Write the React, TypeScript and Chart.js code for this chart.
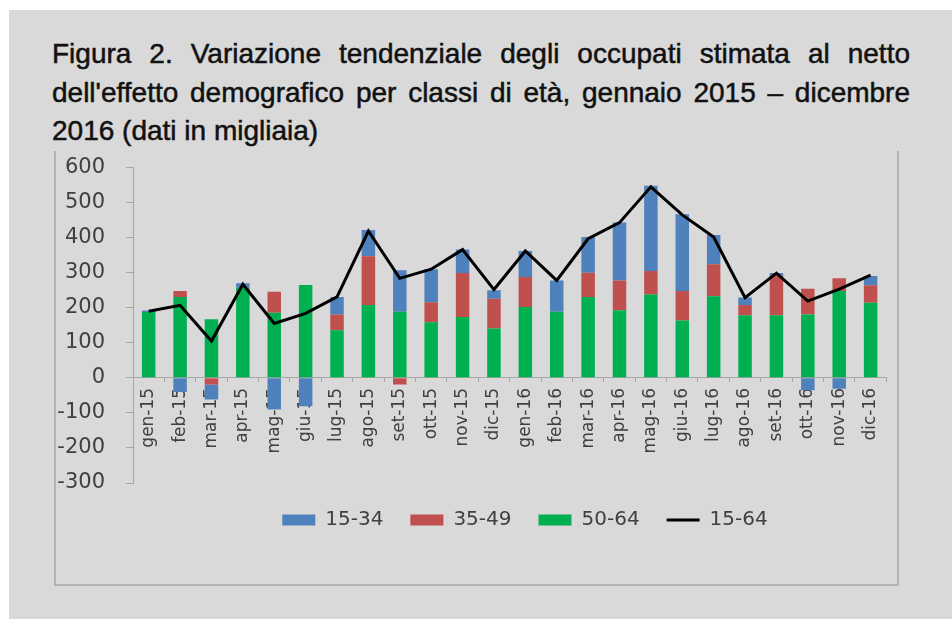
import React, { useEffect, useRef } from "react";
import { Chart, registerables } from "chart.js";

Chart.register(...registerables);

const categories = [
  "gen-15", "feb-15", "mar-15", "apr-15", "mag-15", "giu-15",
  "lug-15", "ago-15", "set-15", "ott-15", "nov-15", "dic-15",
  "gen-16", "feb-16", "mar-16", "apr-16", "mag-16", "giu-16",
  "lug-16", "ago-16", "set-16", "ott-16", "nov-16", "dic-16",
];

const age1534 = [4, -40, -43, 13, -90, -81, 50, 75, 118, 94, 67, 24, 74, 89, 102, 165, 243, 219, 84, 21, 6, -35, -31, 27];
const age3549 = [0, 17, -19, 0, 60, 0, 45, 139, -19, 57, 125, 85, 86, 0, 69, 85, 67, 84, 91, 29, 114, 73, 36, 50];
const age5064 = [188, 231, 167, 257, 186, 265, 136, 208, 189, 159, 174, 141, 202, 189, 231, 193, 238, 164, 233, 179, 179, 181, 248, 214];
const total1564 = [190, 207, 105, 267, 155, 184, 231, 419, 284, 310, 366, 252, 362, 278, 397, 443, 545, 465, 402, 229, 299, 219, 253, 293];

const yMin = -300;
const yMax = 600;
const yStep = 100;

const titleLines = [
  "Figura 2. Variazione tendenziale degli occupati stimata al netto",
  "dell'effetto demografico per classi di età, gennaio 2015 – dicembre",
  "2016 (dati in migliaia)",
];

const legendOrder: Record<number, number> = { 2: 0, 1: 1, 0: 2, 3: 3 };

const legendShift = {
  id: "legendShift",
  afterLayout(chart: any) {
    const l = chart.legend;
    if (l) {
      l.left += 49;
      l.right += 49;
    }
  },
};

export default function App() {
  const canvasRef = useRef<HTMLCanvasElement | null>(null);

  useEffect(() => {
    const canvas = canvasRef.current;
    if (!canvas) return;
    const axisColor = "#a6a6a6";
    const textColor = "#404040";
    const chart = new Chart(canvas, {
      type: "bar",
      data: {
        labels: categories,
        datasets: [
          { type: "bar", label: "50-64", data: age5064, backgroundColor: "#00b050", borderWidth: 0, stack: "bars", order: 1 },
          { type: "bar", label: "35-49", data: age3549, backgroundColor: "#c0504d", borderWidth: 0, stack: "bars", order: 1 },
          { type: "bar", label: "15-34", data: age1534, backgroundColor: "#4f81bd", borderWidth: 0, stack: "bars", order: 1 },
          {
            type: "line", label: "15-64", data: total1564, borderColor: "#000000", backgroundColor: "#000000",
            borderWidth: 3, pointRadius: 0, pointStyle: "line", tension: 0, stack: "total", order: 0,
          } as any,
        ],
      },
      options: {
        animation: false,
        responsive: true,
        maintainAspectRatio: false,
        layout: { padding: { top: 0, bottom: 44, left: 0, right: 0 } },
        datasets: { bar: { barPercentage: 0.43, categoryPercentage: 1 } },
        scales: {
          x: {
            stacked: true,
            position: { y: 0 } as any,
            grid: { display: true, drawOnChartArea: false, drawTicks: true, tickLength: 4, color: axisColor, offset: true },
            border: { color: axisColor, width: 1 },
            ticks: {
              autoSkip: false, minRotation: 90, maxRotation: 90, padding: 6,
              font: { family: "DejaVu Sans", size: 17 }, color: textColor,
            },
          },
          y: {
            stacked: true,
            min: yMin,
            max: yMax,
            grid: { drawOnChartArea: false, drawTicks: true, tickLength: 7, color: axisColor },
            border: { color: axisColor, width: 1 },
            ticks: { stepSize: yStep, padding: 21, font: { family: "DejaVu Sans", size: 21 }, color: textColor },
            afterFit: (scale: any) => { scale.width = 78; },
          },
        },
        plugins: {
          tooltip: { enabled: false },
          legend: {
            position: "bottom",
            labels: {
              usePointStyle: true,
              pointStyleWidth: 33,
              boxHeight: 11,
              padding: 27,
              color: textColor,
              font: { family: "DejaVu Sans", size: 20 },
              sort: (a: any, b: any) => legendOrder[a.datasetIndex] - legendOrder[b.datasetIndex],
              generateLabels: (chart: any) => {
                const items = Chart.defaults.plugins.legend.labels.generateLabels(chart);
                return items.map((it: any) => ({
                  ...it,
                  pointStyle: it.datasetIndex === 3 ? "line" : "rect",
                }));
              },
            },
          },
        },
      },
      plugins: [legendShift],
    });
    return () => chart.destroy();
  }, []);

  return (
    <div style={{ position: "absolute", left: 0, top: 0, width: 952, height: 619, background: "#ffffff", overflow: "hidden" }}>
      <div style={{ position: "absolute", left: 9, top: 10, right: 0, bottom: 0, background: "#d9d9d9" }} />
      <div
        style={{
          position: "absolute", left: 54, top: 150, width: 845, height: 436, boxSizing: "border-box",
          borderLeft: "2px solid #b3b3b3", borderRight: "2px solid #b3b3b3", borderBottom: "2px solid #b3b3b3",
        }}
      />
      <div
        style={{
          position: "absolute", left: 52, top: 35, width: 858, background: "#d9d9d9",
          fontFamily: "'Liberation Sans', Arial, sans-serif", fontSize: 28, lineHeight: "38.5px", color: "#111111",
          WebkitTextStroke: "0.5px #111111",
        }}
      >
        <div style={{ textAlign: "justify", textAlignLast: "justify" as any }}>{titleLines[0]}</div>
        <div style={{ textAlign: "justify", textAlignLast: "justify" as any }}>{titleLines[1]}</div>
        <div style={{ textAlign: "left" }}>{titleLines[2]}</div>
      </div>
      <div style={{ position: "absolute", left: 55, top: 134, width: 842, height: 450 }}>
        <canvas ref={canvasRef} />
      </div>
    </div>
  );
}
